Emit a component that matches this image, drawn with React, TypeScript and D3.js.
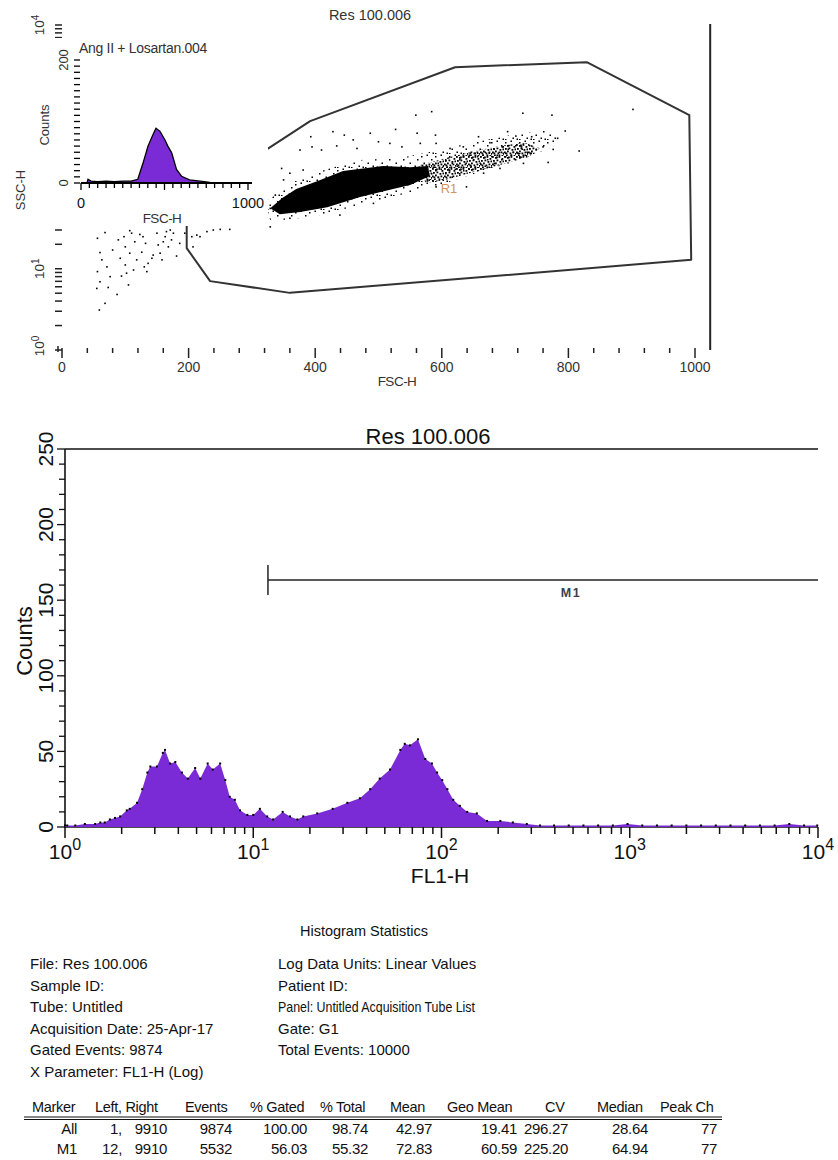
import React from 'react';
import * as d3 from 'd3';

const FONT = "'Liberation Sans', Arial, Helvetica, sans-serif";
const PURPLE = '#7b2bd6';
const INK = '#333333';

// ---------- Inset histogram (FSC-H, linear 0-1000) ----------
const insetFsc = [36, 42, 60, 100, 150, 200, 250, 300, 340, 371, 401, 430, 449, 473, 503, 520, 543, 572, 602, 650, 713, 772, 820];
const insetCounts = [0, 6, 3, 2, 3, 2, 3, 3, 6, 32, 60, 78, 89, 84, 70, 60, 49, 22, 11, 5, 3, 1, 0];

// ---------- Main histogram (FL1-H, channels 0-1023, 256 ch / decade) ----------
const fl1Channel = [0, 3, 14, 27, 41, 48, 54, 61, 68, 75, 84, 88, 98, 105, 112, 116, 125, 133, 136, 143, 150, 159, 167, 177, 184, 194, 201, 211, 218, 224, 231, 238, 248, 256, 265, 275, 283, 296, 306, 316, 324, 343, 364, 384, 401, 415, 428, 442, 456, 462, 469, 480, 490, 499, 506, 513, 520, 528, 537, 547, 560, 574, 592, 609, 628, 646, 665, 685, 705, 725, 745, 765, 785, 805, 825, 845, 865, 885, 905, 925, 945, 965, 985, 1005, 1023];
const fl1Counts = [1, 1, 1, 2, 2, 3, 3, 5, 6, 7, 11, 12, 16, 25, 36, 40, 40, 49, 51, 42, 43, 36, 32, 39, 32, 42, 38, 42, 31, 20, 18, 11, 8, 8, 12, 7, 5, 10, 7, 5, 7, 9, 12, 16, 19, 25, 32, 38, 51, 55, 54, 58, 45, 42, 36, 31, 25, 18, 14, 10, 9, 4, 4, 3, 2, 1, 1, 1, 1, 1, 1, 2, 1, 1, 1, 1, 1, 1, 1, 1, 1, 1, 2, 1, 1];

// ---------- Dot plot: sparse events (FSC-H linear, SSC-H log channel) ----------
const scatterFsc = [56, 68, 60, 63, 56, 60, 55, 68, 59, 71, 76, 73, 80, 87, 89, 92, 94, 98, 100, 100, 102, 105, 107, 107, 110, 113, 115, 118, 123, 126, 128, 130, 132, 134, 136, 142, 144, 150, 152, 155, 158, 160, 163, 165, 168, 171, 173, 176, 181, 186, 194, 205, 207, 213, 218, 229, 239, 250, 265,
  584, 559, 728, 774, 902, 393, 428, 446, 487, 527, 561, 590, 658, 704, 717, 742, 783, 795, 817, 768, 376, 395, 410, 434, 460, 466, 500, 518, 537, 566, 591, 613, 634, 676, 697, 726, 760, 776, 347, 350, 360, 381, 337, 329, 329, 360, 439, 492, 639, 591, 666, 692, 729, 734];
const scatterSscCh = [352, 370, 307, 284, 247, 215, 194, 147, 126, 262, 231, 197, 315, 175, 347, 289, 233, 357, 325, 268, 242, 205, 376, 305, 368, 252, 341, 284, 364, 308, 357, 262, 336, 247, 273, 289, 299, 368, 331, 305, 284, 341, 357, 373, 325, 378, 347, 368, 296, 336, 368, 357, 325, 362, 357, 373, 378, 380, 380,
  751, 740, 746, 740, 758, 672, 688, 677, 683, 695, 683, 677, 672, 688, 674, 672, 667, 690, 627, 591, 630, 640, 630, 643, 662, 635, 656, 651, 640, 651, 651, 635, 640, 653, 640, 640, 640, 632, 572, 536, 557, 567, 488, 446, 388, 415, 425, 462, 514, 514, 557, 572, 588, 609];

// dense population outlines
const coreFsc = [329, 348, 370, 403, 444, 507, 550, 578, 581, 550, 523, 471, 419, 376, 344];
const coreSscCh = [447, 479, 507, 532, 564, 580, 576, 580, 548, 520, 507, 482, 450, 435, 428];
const bandFsc = [566, 613, 660, 700, 732, 755, 739, 692, 645, 605, 574];
const bandSscCh = [583, 608, 630, 646, 652, 636, 611, 583, 558, 536, 526];
const haloFsc = [322, 325, 352, 376, 423, 471, 534, 581, 645, 708, 763, 787, 771, 724, 660, 597, 534, 471, 408, 360, 329];
const haloSscCh = [428, 473, 510, 542, 573, 599, 605, 624, 652, 677, 693, 677, 636, 599, 561, 520, 488, 457, 425, 410, 410];

// R1 gate
const gateFsc = [329, 392, 621, 829, 991, 994, 360, 234, 197, 197];
const gateSscCh = [639, 721, 891, 907, 740, 284, 180, 217, 321, 472];

// ---------- Statistics ----------
const infoLeft = ['File: Res 100.006', 'Sample ID:', 'Tube: Untitled', 'Acquisition Date: 25-Apr-17', 'Gated Events: 9874', 'X Parameter: FL1-H (Log)'];
const infoRight = ['Log Data Units: Linear Values', 'Patient ID:', 'Panel: Untitled Acquisition Tube List', 'Gate: G1', 'Total Events: 10000'];
const statHeaders = ['Marker', 'Left, Right', 'Events', '% Gated', '% Total', 'Mean', 'Geo Mean', 'CV', 'Median', 'Peak Ch'];
const statRows = [
  ['All', '1,', '9910', '9874', '100.00', '98.74', '42.97', '19.41', '296.27', '28.64', '77'],
  ['M1', '12,', '9910', '5532', '56.03', '55.32', '72.83', '60.59', '225.20', '64.94', '77'],
];

const ch2v = (c: number) => Math.pow(10, c / 256);

// irregular speckle tiles for the dense populations
const denseDots = [[0, 0], [3, 1], [6.5, 0], [9.5, 2], [1, 4], [4.5, 3.5], [7.5, 5], [10.5, 4.5], [0, 7.5], [3, 6.5], [5.5, 8.5], [8.5, 7.5], [11, 9], [2, 10.5], [6.5, 10.5], [9.5, 11], [4, 0.5], [1.5, 8.5]];
const haloDots = [[1, 2], [6.5, 0.5], [11, 5], [3.5, 8.5], [8.5, 11.5], [12.5, 12.5], [1, 13]];

export default function App() {
  const xTop = d3.scaleLinear().domain([0, 1000]).range([62, 695]);
  const yTop = d3.scaleLog().domain([1, 10000]).range([350, 25]);
  const pt = (f: number, c: number) => [xTop(f), yTop(ch2v(c))];
  const poly = (fs: number[], cs: number[]) =>
    fs.map((f, i) => pt(f, cs[i]).join(',')).join(' ');

  const xIn = d3.scaleLinear().domain([0, 1000]).range([81, 248]);
  const yIn = d3.scaleLinear().domain([0, 200]).range([183, 60]);
  const insetArea = d3.area<number>()
    .x((_, i) => xIn(insetFsc[i]))
    .y0(yIn(0))
    .y1((d) => yIn(d));
  const insetLine = d3.line<number>()
    .x((_, i) => xIn(insetFsc[i]))
    .y((d) => yIn(d));

  const xMain = d3.scaleLog().domain([1, 10000]).range([65, 818]);
  const yMain = d3.scaleLinear().domain([0, 250]).range([827, 449]);
  const mainArea = d3.area<number>()
    .x((_, i) => xMain(ch2v(fl1Channel[i])))
    .y0(yMain(0))
    .y1((d) => yMain(d));

  const logTicks: number[] = [];
  for (let k = 0; k < 4; k++) for (let m = 1; m < 10; m++) logTicks.push(m * Math.pow(10, k));
  logTicks.push(10000);

  const topXTicks = d3.range(0, 1001, 40);
  const insetXTicks = d3.range(0, 1001, 50);
  const insetYTicks = d3.range(0, 201, 10);
  const mainYTicks = d3.range(0, 251, 10);

  const statColsHeaderX = [32, 95, 185, 250, 320, 390, 447, 545, 597, 660];
  const statColsRight = [77, 122, 167, 232, 307, 368, 432, 517, 568, 648, 717];

  return (
    <div style={{ position: 'absolute', left: 0, top: 0 }}>
      <svg width={838} height={1160} style={{ display: 'block', background: '#fff' }} fontFamily={FONT}>
        <defs>
          <pattern id="densePat" width="12" height="12" patternUnits="userSpaceOnUse">
            {denseDots.map(([x, y], i) => <rect key={i} x={x} y={y} width={1.8} height={1.8} fill="#000" />)}
          </pattern>
          <pattern id="haloPat" width="14" height="14" patternUnits="userSpaceOnUse">
            {haloDots.map(([x, y], i) => <rect key={i} x={x} y={y} width={1.5} height={1.5} fill="#000" />)}
          </pattern>
        </defs>

        {/* ===== Top dot plot ===== */}
        <text x={370} y={20} textAnchor="middle" fontSize={14.5} fill={INK}>Res 100.006</text>

        <polygon points={poly(haloFsc, haloSscCh)} fill="url(#haloPat)" />
        <polygon points={poly(bandFsc, bandSscCh)} fill="url(#densePat)" />
        <polygon points={poly(coreFsc, coreSscCh)} fill="#000" />
        {scatterFsc.map((f, i) => {
          const [x, y] = pt(f, scatterSscCh[i]);
          return <rect key={i} x={x - 0.8} y={y - 0.8} width={1.6} height={1.6} fill="#000" />;
        })}
        <text x={449} y={193} textAnchor="middle" fontSize={13} fill="#c98436" opacity={0.85}>R1</text>
        <polygon points={poly(gateFsc, gateSscCh)} fill="none" stroke="#333" strokeWidth={2} strokeLinejoin="round" />
        <line x1={xTop(1024)} x2={xTop(1024)} y1={24} y2={350} stroke="#222" strokeWidth={2} />

        {topXTicks.map((t) => (
          <line key={'tx' + t} x1={xTop(t)} x2={xTop(t)} y1={348} y2={t % 200 === 0 ? 358 : 353} stroke="#222" strokeWidth={1.5} />
        ))}
        {[0, 200, 400, 600, 800, 1000].map((t) => (
          <text key={'txl' + t} x={xTop(t)} y={372} textAnchor="middle" fontSize={14} fill={INK}>{t}</text>
        ))}
        <text x={397} y={386} textAnchor="middle" fontSize={13.5} fill={INK} letterSpacing={-0.5}>FSC-H</text>

        {logTicks.map((t, i) => (
          <line key={'ty' + i} x1={55} x2={62} y1={yTop(t)} y2={yTop(t)} stroke="#222" strokeWidth={1.5} />
        ))}
        <line x1={58} x2={58} y1={346} y2={352} stroke="#222" strokeWidth={1.5} />

        {/* inset background */}
        <rect x={28} y={38} width={240} height={188} fill="#fff" />

        {[0, 1, 4].map((k) => (
          <g key={'tyl' + k} transform={`translate(44, ${yTop(Math.pow(10, k)) + (k === 0 ? -4 : 0)}) rotate(-90)`}>
            <text textAnchor="middle" fontSize={13.5} fill={INK}>10<tspan fontSize={10} dy={-5}>{k}</tspan></text>
          </g>
        ))}
        <g transform="translate(25, 190) rotate(-90)">
          <text textAnchor="middle" fontSize={13} fill={INK}>SSC-H</text>
        </g>

        {/* ===== Inset histogram ===== */}
        <text x={79} y={53} fontSize={14} fill={INK} letterSpacing={-0.3}>Ang II + Losartan.004</text>
        <path d={insetArea(insetCounts) || ''} fill={PURPLE} />
        <path d={insetLine(insetCounts) || ''} fill="none" stroke="#000" strokeWidth={1.3} />
        <line x1={xIn(0)} x2={xIn(1024)} y1={yIn(0)} y2={yIn(0)} stroke="#000" strokeWidth={2} />
        {insetXTicks.map((t) => (
          <line key={'ix' + t} x1={xIn(t)} x2={xIn(t)} y1={yIn(0)} y2={t % 500 === 0 ? yIn(0) + 7 : yIn(0) + 5} stroke="#000" strokeWidth={1.3} />
        ))}
        {insetYTicks.map((t) => (
          <line key={'iy' + t} x1={74} x2={80} y1={yIn(t)} y2={yIn(t)} stroke="#000" strokeWidth={1.3} />
        ))}
        <text x={xIn(0)} y={208} textAnchor="middle" fontSize={14.5} fill="#111">0</text>
        <text x={xIn(1000)} y={208} textAnchor="middle" fontSize={14.5} fill="#111">1000</text>
        <g transform={`translate(68, ${yIn(200)}) rotate(-90)`}>
          <text textAnchor="middle" fontSize={13} fill={INK}>200</text>
        </g>
        <g transform={`translate(68, ${yIn(0)}) rotate(-90)`}>
          <text textAnchor="middle" fontSize={13} fill={INK}>0</text>
        </g>
        <g transform="translate(49, 125) rotate(-90)">
          <text textAnchor="middle" fontSize={13} fill={INK}>Counts</text>
        </g>
        <text x={162} y={223} textAnchor="middle" fontSize={13.5} fill={INK} letterSpacing={-0.5}>FSC-H</text>

        {/* ===== Main histogram ===== */}
        <text x={428} y={444} textAnchor="middle" fontSize={22} fill="#111">Res 100.006</text>
        <line x1={65} x2={818} y1={449} y2={449} stroke="#111" strokeWidth={1.6} />
        <line x1={65} x2={65} y1={449} y2={828} stroke="#111" strokeWidth={1.6} />
        <line x1={65} x2={818} y1={827} y2={827} stroke="#111" strokeWidth={1.6} />
        {mainYTicks.map((t) => (
          <line key={'my' + t} x1={t % 50 === 0 ? 57 : 59} x2={65} y1={yMain(t)} y2={yMain(t)} stroke="#111" strokeWidth={1.3} />
        ))}
        {d3.range(0, 251, 50).map((t) => (
          <g key={'myl' + t} transform={`translate(53, ${yMain(t)}) rotate(-90)`}>
            <text textAnchor="middle" fontSize={21} fill="#111">{t}</text>
          </g>
        ))}
        <g transform="translate(32, 641) rotate(-90)">
          <text textAnchor="middle" fontSize={22} fill="#111">Counts</text>
        </g>

        <path d={mainArea(fl1Counts) || ''} fill={PURPLE} />
        {fl1Counts.map((c, i) => (
          <rect key={'md' + i} x={xMain(ch2v(fl1Channel[i])) - 1} y={yMain(c) - 1} width={2} height={2} fill="#000" />
        ))}

        {logTicks.map((t, i) => {
          const major = Math.abs(Math.log10(t) - Math.round(Math.log10(t))) < 1e-9;
          return (
            <line key={'mx' + i} x1={xMain(t)} x2={xMain(t)} y1={827} y2={major ? 838 : 834} stroke="#111" strokeWidth={1.5} />
          );
        })}
        {[0, 1, 2, 3, 4].map((k) => (
          <text key={'mxl' + k} x={xMain(Math.pow(10, k))} y={859} textAnchor="middle" fontSize={21} fill="#111">
            10<tspan fontSize={16} dy={-9}>{k}</tspan>
          </text>
        ))}
        <text x={440} y={883} textAnchor="middle" fontSize={21} fill="#111">FL1-H</text>

        {/* M1 marker */}
        <line x1={xMain(ch2v(276))} x2={xMain(ch2v(276))} y1={565} y2={595} stroke="#222" strokeWidth={1.5} />
        <line x1={xMain(ch2v(276))} x2={818} y1={580} y2={580} stroke="#222" strokeWidth={1.5} />
        <text x={571} y={597} textAnchor="middle" fontSize={12.5} fill="#3a3f4f" letterSpacing={1.5} fontWeight="bold">M1</text>

        {/* ===== Statistics ===== */}
        <text x={364} y={936} textAnchor="middle" fontSize={14.5} fill="#111">Histogram Statistics</text>
        {infoLeft.map((s, i) => (
          <text key={'il' + i} x={30} y={969 + i * 21.5} fontSize={15} fill="#111">{s}</text>
        ))}
        {infoRight.map((s, i) => (
          <text key={'ir' + i} x={278} y={969 + i * 21.5} fontSize={15} fill="#111"
            {...(i === 2 ? { textLength: 197, lengthAdjust: 'spacingAndGlyphs' } : {})}>{s}</text>
        ))}
        {statHeaders.map((h, i) => (
          <text key={'sh' + i} x={statColsHeaderX[i]} y={1112} fontSize={14.5} fill="#111" letterSpacing={-0.3}>{h}</text>
        ))}
        <line x1={24} x2={722} y1={1117} y2={1117} stroke="#111" strokeWidth={1.2} />
        <line x1={24} x2={722} y1={1119.5} y2={1119.5} stroke="#111" strokeWidth={1.2} />
        {statRows.map((row, r) =>
          row.map((v, j) => (
            <text key={'sr' + r + '-' + j} x={statColsRight[j]} y={1133.5 + r * 20} textAnchor="end" fontSize={15} fill="#111" letterSpacing={-0.3}>{v}</text>
          ))
        )}
      </svg>
    </div>
  );
}
